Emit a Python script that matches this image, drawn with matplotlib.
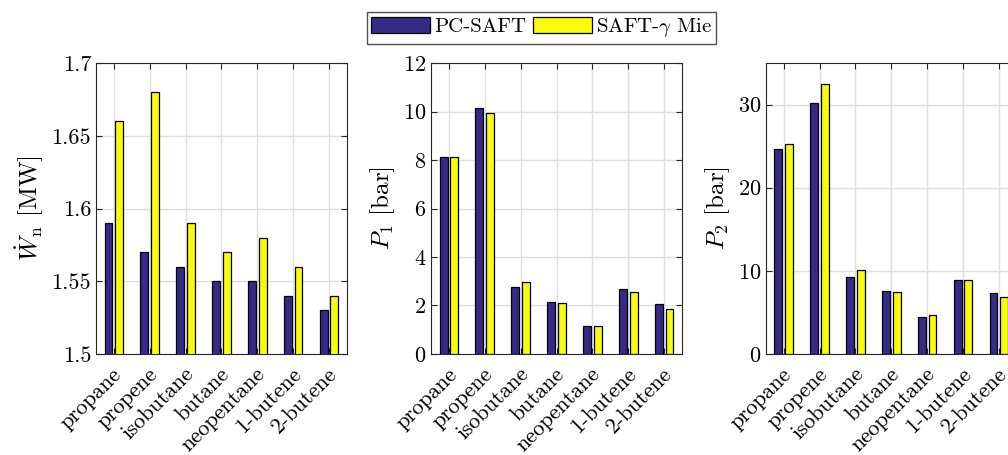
import numpy as np
import matplotlib
matplotlib.use("Agg")
import matplotlib.pyplot as plt
from matplotlib.transforms import ScaledTranslation

# fluids and results for the two equations of state
fluids = ["propane", "propene", "isobutane", "butane", "neopentane", "1-butene", "2-butene"]
series_names = ["PC-SAFT", r"SAFT-$\gamma$ Mie"]

w_pcsaft = [1.59, 1.57, 1.56, 1.55, 1.55, 1.54, 1.53]
w_saft = [1.66, 1.68, 1.59, 1.57, 1.58, 1.56, 1.54]

p1_pcsaft = [8.14, 10.16, 2.78, 2.16, 1.17, 2.67, 2.05]
p1_saft = [8.14, 9.92, 2.98, 2.09, 1.14, 2.56, 1.87]

p2_pcsaft = [24.6, 30.2, 9.3, 7.6, 4.4, 8.95, 7.3]
p2_saft = [25.3, 32.5, 10.1, 7.5, 4.7, 8.9, 6.9]

COLORS = ["#352A87", "#F9FB0E"]

plt.rcParams["font.family"] = "cmr10"
plt.rcParams["mathtext.fontset"] = "cm"
plt.rcParams["axes.formatter.use_mathtext"] = True
plt.rcParams["axes.unicode_minus"] = False


def draw_panel(fig, ax, a, b, ylim, yticks, ylabel):
    x = np.arange(1, len(fluids) + 1)
    w = 0.22
    bars = []
    for vals, off, c in [(a, -0.15, COLORS[0]), (b, 0.15, COLORS[1])]:
        bars.append(ax.bar(x + off, vals, w, color=c, edgecolor="black",
                           linewidth=0.9, zorder=3))
    ax.set_xlim(0.5, 7.5)
    ax.set_ylim(*ylim)
    ax.set_yticks(yticks)
    ax.set_xticks(x)
    ax.set_xticklabels([])
    # rotated labels hang down-left from a point just right of each tick
    trans = ax.get_xaxis_transform() + ScaledTranslation(-0.02, -0.10, fig.dpi_scale_trans)
    for xi, name in zip(x, fluids):
        ax.text(xi, 0, name, transform=trans, rotation=45, ha="right", va="top",
                rotation_mode="anchor", fontsize=16, clip_on=False)
    ax.tick_params(axis="y", labelsize=16)
    ax.tick_params(direction="in", top=True, right=True, length=4,
                   width=0.8, color="#262626")
    ax.grid(True, color="#DFDFDF", linewidth=1.0, zorder=0)
    ax.set_axisbelow(True)
    for s in ax.spines.values():
        s.set_color("#262626")
        s.set_linewidth(0.8)
    ax.set_ylabel(ylabel, fontsize=18)
    return bars


fig = plt.figure(figsize=(10.08, 4.55), dpi=100)
bottom, height, width = 0.222, 0.6395, 0.249

ax1 = fig.add_axes([0.0952, bottom, width, height])
bars = draw_panel(fig, ax1, w_pcsaft, w_saft, (1.5, 1.7),
                  [1.5, 1.55, 1.6, 1.65, 1.7], r"$\dot{W}_\mathrm{n}$ [MW]")
ax1.set_yticklabels(["1.5", "1.55", "1.6", "1.65", "1.7"])

ax2 = fig.add_axes([0.4276, bottom, width, height])
draw_panel(fig, ax2, p1_pcsaft, p1_saft, (0, 12), np.arange(0, 13, 2), r"$P_1$ [bar]")

ax3 = fig.add_axes([0.7597, bottom, width, height])
draw_panel(fig, ax3, p2_pcsaft, p2_saft, (0, 35), [0, 10, 20, 30], r"$P_2$ [bar]")

fig.legend(bars, series_names, loc="upper left", bbox_to_anchor=(0.364, 0.974),
           ncol=2, fontsize=15, frameon=True, fancybox=False, edgecolor="#262626",
           handlelength=2.8, handleheight=0.8, columnspacing=0.35,
           handletextpad=0.2, borderpad=0.22, borderaxespad=0)

fig.savefig("out.png", dpi=100)
